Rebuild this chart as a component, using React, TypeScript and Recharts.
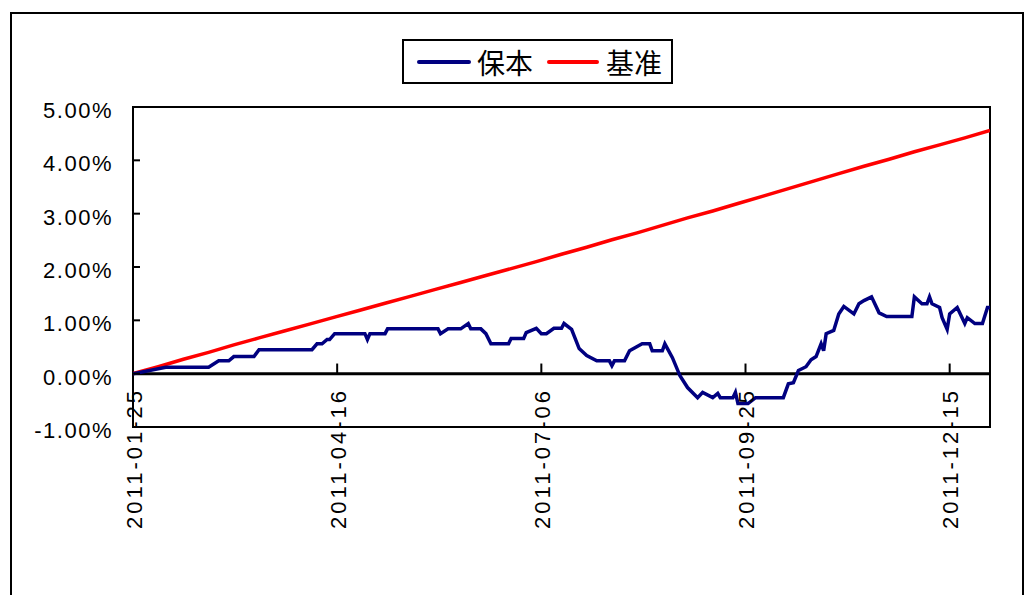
import React from 'react';
import { LineChart, Line, XAxis, YAxis, ReferenceLine, ReferenceArea, Legend } from 'recharts';

// day offsets from 2011-01-25 for the tick labels
const tickDays = [0, 81, 162, 243, 324];
const tickLabels = ['2011-01-25', '2011-04-16', '2011-07-06', '2011-09-25', '2011-12-15'];
const yTicks = [-1, 0, 1, 2, 3, 4, 5];

// 保本 (fund) - days and cumulative return in %
const fundDays = [
  0, 13, 30, 34, 38, 40, 48, 50, 71, 73, 75, 77, 78, 80, 92, 93, 94, 100, 101, 121,
  122, 125, 130, 133, 134, 138, 140, 142, 149, 150, 155, 156, 160, 162, 164, 167, 170, 171, 174, 177,
  180, 184, 189, 190, 191, 195, 197, 202, 205, 206, 210, 211, 214, 217, 220, 224, 226, 230, 232, 233,
  238, 239, 240, 244, 247, 258, 260, 262, 264, 267, 269, 271, 273, 274, 275, 278, 280, 282, 286, 288,
  290, 293, 296, 299, 309, 310, 313, 315, 316, 317, 320, 321, 323, 324, 327, 330, 331, 334, 337, 339, 340,
];
const fundValues = [
  0, 0.12, 0.12, 0.24, 0.24, 0.32, 0.32, 0.45, 0.45, 0.56, 0.56, 0.64, 0.64, 0.75, 0.75, 0.64, 0.75, 0.75, 0.84, 0.84,
  0.75, 0.84, 0.84, 0.94, 0.84, 0.84, 0.75, 0.56, 0.56, 0.66, 0.66, 0.77, 0.85, 0.75, 0.75, 0.85, 0.85, 0.94, 0.83, 0.47,
  0.34, 0.24, 0.24, 0.15, 0.24, 0.24, 0.43, 0.56, 0.56, 0.43, 0.43, 0.56, 0.3, -0.04, -0.26, -0.45, -0.35, -0.45, -0.37, -0.45,
  -0.45, -0.35, -0.56, -0.56, -0.45, -0.45, -0.19, -0.17, 0.06, 0.13, 0.26, 0.32, 0.56, 0.43, 0.75, 0.81, 1.12, 1.26, 1.12, 1.31,
  1.37, 1.44, 1.14, 1.07, 1.07, 1.44, 1.31, 1.31, 1.44, 1.31, 1.24, 1.05, 0.83, 1.12, 1.24, 0.94, 1.05, 0.94, 0.94, 1.24, 1.24,
];

// 基准 (benchmark)
const benchDays = [
  0, 10, 20, 30, 40, 50, 60, 70, 80, 90, 100, 110, 120, 130, 140, 150, 160, 170,
  180, 190, 200, 210, 220, 230, 240, 250, 260, 270, 280, 290, 300, 310, 320, 330, 340,
];
const benchValues = [
  0, 0.13, 0.27, 0.4, 0.54, 0.67, 0.8, 0.93, 1.06, 1.19, 1.32, 1.45, 1.58, 1.71, 1.84, 1.97, 2.1, 2.24,
  2.37, 2.51, 2.64, 2.78, 2.92, 3.05, 3.19, 3.33, 3.47, 3.61, 3.75, 3.89, 4.02, 4.16, 4.29, 4.42, 4.56,
];

const fundData = fundDays.map((d, i) => ({ day: d, v: fundValues[i] }));
const benchData = benchDays.map((d, i) => ({ day: d, v: benchValues[i] }));

const FONT = '"Liberation Sans", Arial, sans-serif';

const XTick = ({ x, y, payload }: any) => {
  const idx = tickDays.indexOf(payload.value);
  return (
    <g transform={`translate(${x + 1},${y - 39}) rotate(-90)`}>
      <text x={0} y={0} dy="0.35em" textAnchor="end" fontSize={22} letterSpacing={3} fill="#000" fontFamily={FONT}>
        {tickLabels[idx]}
      </text>
    </g>
  );
};

const YTick = ({ x, y, payload }: any) => (
  <g>
    <line x1={x} x2={x + 7} y1={y} y2={y} stroke="#000" strokeWidth={2} />
    <text x={x - 20} y={y} dy={11} textAnchor="end" fontSize={22} letterSpacing={1.5} fill="#000" fontFamily={FONT}>
      {payload.value.toFixed(2)}%
    </text>
  </g>
);

const LegendBox = () => (
  <div
    style={{
      border: '2px solid #000',
      boxSizing: 'border-box',
      width: 271,
      height: 45,
      display: 'flex',
      alignItems: 'center',
      paddingLeft: 13,
      background: '#fff',
      fontFamily: '"Noto Sans CJK SC", sans-serif',
      fontSize: 28,
      color: '#000',
    }}
  >
    <span style={{ width: 54, height: 4, background: '#000080', borderRadius: 2, marginRight: 6 }} />
    <span>保本</span>
    <span style={{ width: 52, height: 4, background: '#ff0000', borderRadius: 2, marginLeft: 14, marginRight: 7 }} />
    <span>基准</span>
  </div>
);

export default function App() {
  return (
    <div style={{ position: 'absolute', left: 0, top: 0, width: 1026, height: 595, background: '#fff', overflow: 'hidden' }}>
      <div
        style={{
          position: 'absolute',
          left: 10,
          top: 12,
          width: 1014,
          height: 620,
          border: '2px solid #000',
          boxSizing: 'border-box',
        }}
      />
      <LineChart width={1026} height={595} margin={{ top: 107, right: 36, bottom: 0, left: 0 }} style={{ position: 'absolute', left: 0, top: 0 }}>
        <XAxis
          type="number"
          dataKey="day"
          domain={[0, 340]}
          ticks={tickDays}
          height={168}
          axisLine={false}
          tickLine={false}
          tickSize={0}
          tickMargin={0}
          tick={<XTick />}
          allowDataOverflow
        />
        <YAxis
          type="number"
          domain={[-1, 5]}
          ticks={yTicks}
          width={133}
          axisLine={false}
          tickLine={false}
          tickSize={0}
          tickMargin={0}
          tick={<YTick />}
          allowDataOverflow
        />
        <ReferenceArea x1={0} x2={340} y1={-1} y2={5} fill="none" stroke="#000" strokeWidth={2} fillOpacity={0} />
        <ReferenceLine y={0} stroke="#000" strokeWidth={3} />
        {tickDays.slice(1).map((d) => (
          <ReferenceLine key={d} segment={[{ x: d, y: 0 }, { x: d, y: 0.19 }]} stroke="#000" strokeWidth={2} />
        ))}
        <Line data={benchData} dataKey="v" type="linear" stroke="#ff0000" strokeWidth={3.5} dot={false} isAnimationActive={false} name="基准" />
        <Line data={fundData} dataKey="v" type="linear" stroke="#000080" strokeWidth={3.5} dot={false} isAnimationActive={false} name="保本" />
        <Legend
          verticalAlign="middle"
          layout="horizontal"
          content={<LegendBox />}
          wrapperStyle={{ position: 'absolute', left: 402, top: 39, width: 271, height: 45 }}
        />
      </LineChart>
    </div>
  );
}
